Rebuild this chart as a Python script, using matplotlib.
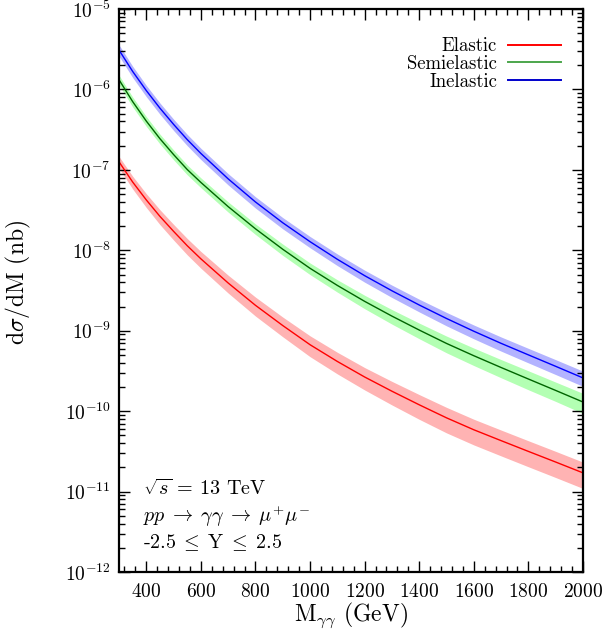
import numpy as np
import matplotlib
matplotlib.use("Agg")
import matplotlib.pyplot as plt
from matplotlib.lines import Line2D
from matplotlib.ticker import MultipleLocator, LogLocator, NullFormatter

plt.rcParams['font.family'] = 'serif'
plt.rcParams['font.serif'] = ['cmr10', 'DejaVu Serif']
plt.rcParams['mathtext.fontset'] = 'cm'
plt.rcParams['axes.formatter.use_mathtext'] = True

# invariant mass grid (GeV)
mass = [300, 350, 400, 450, 500, 550, 600, 700, 800, 900, 1000,
        1100, 1200, 1300, 1400, 1500, 1600, 1700, 1800, 1900, 2000]

# d sigma / dM (nb), central values
elastic = [1.26e-7, 7.06e-8, 4.23e-8, 2.64e-8, 1.72e-8, 1.14e-8, 7.83e-9,
           3.92e-9, 2.07e-9, 1.16e-9, 6.70e-10, 4.15e-10, 2.66e-10, 1.77e-10,
           1.20e-10, 8.26e-11, 5.87e-11, 4.30e-11, 3.16e-11, 2.33e-11, 1.71e-11]
semielastic = [1.32e-6, 7.06e-7, 4.04e-7, 2.44e-7, 1.55e-7, 1.01e-7, 6.98e-8,
               3.49e-8, 1.85e-8, 1.03e-8, 5.97e-9, 3.66e-9, 2.32e-9, 1.52e-9,
               1.02e-9, 6.95e-10, 4.89e-10, 3.49e-10, 2.51e-10, 1.81e-10, 1.30e-10]
inelastic = [3.09e-6, 1.675e-6, 9.68e-7, 5.85e-7, 3.68e-7, 2.38e-7, 1.60e-7,
             7.73e-8, 3.99e-8, 2.20e-8, 1.28e-8, 7.73e-9, 4.84e-9, 3.14e-9,
             2.09e-9, 1.42e-9, 9.86e-10, 6.97e-10, 5.01e-10, 3.61e-10, 2.59e-10]

# relative uncertainty of the bands
elastic_err = [0.165, 0.18, 0.195, 0.21, 0.22, 0.23, 0.235, 0.25, 0.265, 0.275, 0.29,
               0.30, 0.31, 0.325, 0.34, 0.35, 0.352, 0.354, 0.356, 0.358, 0.36]
semielastic_err = [0.14, 0.14, 0.14, 0.14, 0.14, 0.14, 0.14, 0.145, 0.15, 0.16, 0.165,
                   0.175, 0.19, 0.205, 0.22, 0.235, 0.245, 0.255, 0.265, 0.27, 0.28]
inelastic_err = [0.16, 0.16, 0.16, 0.16, 0.16, 0.16, 0.16, 0.16, 0.16, 0.16, 0.16,
                 0.165, 0.17, 0.175, 0.18, 0.19, 0.195, 0.2, 0.205, 0.21, 0.215]

labels = ['Elastic', 'Semielastic', 'Inelastic']
line_colors = ['#ff0000', '#006400', '#0000ff']
band_colors = ['#ffb3b3', '#b3ffb3', '#b3b3ff']
legend_colors = ['#ff0000', '#4ca64c', '#0000cc']
xticks = [400, 600, 800, 1000, 1200, 1400, 1600, 1800, 2000]

fig = plt.figure(figsize=(6.02, 6.36), dpi=100)
ax = fig.add_axes([0.1977, 0.1006, 0.7707, 0.8852])

m = np.array(mass)
for y, err, lc, bc in zip([elastic, semielastic, inelastic],
                          [elastic_err, semielastic_err, inelastic_err],
                          line_colors, band_colors):
    y = np.array(y)
    e = np.array(err)
    ax.fill_between(m, y * (1 - e), y * (1 + e), color=bc, lw=0)
    ax.plot(m, y, color=lc, lw=1.0)

ax.set_yscale('log')
ax.set_xlim(300, 2000)
ax.set_ylim(1e-12, 1e-5)
ax.set_xticks(xticks)
ax.xaxis.set_minor_locator(MultipleLocator(40))
ax.yaxis.set_major_locator(LogLocator(base=10, numticks=20))
ax.yaxis.set_minor_locator(LogLocator(base=10, subs=np.arange(2, 10), numticks=20))
ax.yaxis.set_minor_formatter(NullFormatter())
ax.tick_params(which='both', direction='in', top=True, right=True, labelsize=14,
               width=1.0, colors='black')
ax.tick_params(which='major', length=8, pad=6)
ax.tick_params(which='minor', length=4)
ax.tick_params(axis='x', pad=8)
for sp in ax.spines.values():
    sp.set_linewidth(1.6)

ax.set_xlabel(r'M$_{\gamma\gamma}$ (GeV)', fontsize=17, labelpad=0)
ax.set_ylabel(r'd$\sigma$/dM (nb)', fontsize=17)
ax.yaxis.set_label_coords(-0.185, 0.515)

handles = [Line2D([], [], color=c, lw=1.4) for c in legend_colors]
ax.legend(handles, labels, loc='upper right', bbox_to_anchor=(0.952, 0.950),
          frameon=False, markerfirst=False, fontsize=13.5, handlelength=2.8,
          handletextpad=0.6, labelspacing=0.0, borderpad=0, borderaxespad=0)

ax.text(0.052, 0.137, r'$\sqrt{s}$ = 13 TeV', transform=ax.transAxes, fontsize=14.5)
ax.text(0.052, 0.089,
        r'$pp \;\rightarrow\; \gamma\gamma \;\rightarrow\; \mu^{+}\mu^{-}$',
        transform=ax.transAxes, fontsize=14.5)
ax.text(0.052, 0.043, r'-2.5$\;\leq\;$Y$\;\leq\;$2.5',
        transform=ax.transAxes, fontsize=14.5)

fig.savefig('out.png', dpi=100)
